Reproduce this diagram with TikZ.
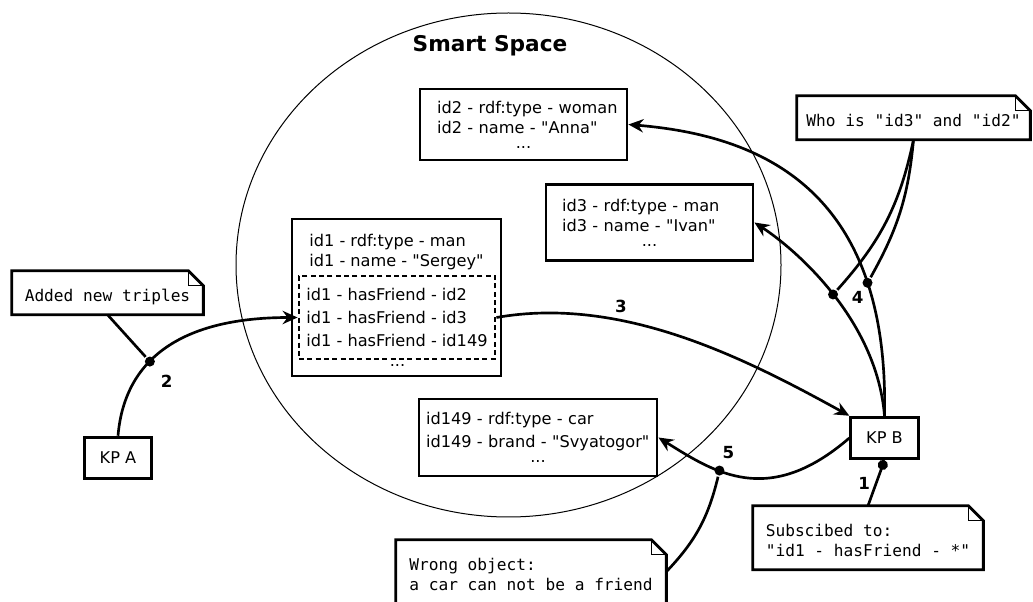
\documentclass[tikz,border=0pt]{standalone}
\usepackage{fontspec}
\newfontfamily\dejavu{DejaVu Sans}
\setmonofont{DejaVu Sans Mono}
\usepackage{tikz}
\usetikzlibrary{arrows.meta,positioning,calc,shapes.geometric}
\tikzset{
	box/.style={draw, line width=1.7pt, align=left, inner sep=0pt, font=\fontsize{9.7}{12}\dejavu},
	txt/.style={align=left, inner sep=0pt, font=\fontsize{9.7}{12}\dejavu},
	arrow/.style={-{Stealth[length=9pt,width=8pt,inset=3pt]}, line width=1.6pt},
	link/.style={line width=1.6pt},
	notebox/.style={align=left, inner sep=0pt, inner ysep=5pt, font=\fontsize{9.7}{12}\ttfamily},
	num/.style={font=\fontsize{10}{12}\dejavu\bfseries, inner sep=1pt},
	dotmark/.style={circle, fill, inner sep=0pt, minimum size=6pt}
}
% two triples and the dots under them
\newcommand\triples[3][0pt]{\mbox{#2}\\[#1]\mbox{#3}\\[-3pt]\makebox[\linewidth]{...}}
% note text with room for the folded corner
\newcommand\notetext[1]{\rule{0pt}{13.5pt}#1\rule[-2.5pt]{0pt}{2.5pt}}
% note outline with folded corner
\newcommand\dogear[1]{%
	\draw[line width=1.7pt] (#1.north west) -- ([xshift=-9pt]#1.north east)
	-- ([yshift=-9pt]#1.north east) -- (#1.south east) -- (#1.south west) -- cycle;
	\draw[line width=0.7pt] ([xshift=-9pt]#1.north east) |- ([yshift=-9pt]#1.north east);
}

\begin{document}
\begin{tikzpicture}[x=0.6pt, y=-0.6pt,
		triplebox/.style={box},
		kp/.style={box, align=center, minimum width=40.5pt, minimum height=25pt},
		]
	\useasboundingbox (0,0) rectangle (1033,602);
	
	%% -- Smart space
	\node[draw, ellipse, line width=0.6pt, inner sep=0pt,
	minimum width=327pt, minimum height=302.4pt] (space) at (508.5,265) {};
	\node[font=\fontsize{13}{15}\dejavu\bfseries] (sstitle) at (490,46) {Smart Space};
	
	%% -- Triples
	\node[triplebox, text width=103.8pt, inner xsep=10.2pt, minimum height=42.6pt]
	(anna) at (523.5,124.5)
	{\triples{id2 - rdf:type - woman}{id2 - name - "Anna"}};
	
	\node[triplebox, text width=105pt, inner xsep=9.6pt, minimum height=45.6pt]
	(ivan) at (649.5,222.5)
	{\triples{id3 - rdf:type - man}{id3 - name - "Ivan"}};
	
	\node[triplebox, text width=134.4pt, inner xsep=4.2pt, minimum height=46.2pt]
	(car) at (538,437.5)
	{\triples[1.6pt]{id149 - rdf:type - car}{id149 - brand - "Svyatogor"}};
	
	\node[box, minimum width=125.4pt, minimum height=94.2pt] (sergey) at (396.5,297.5) {};
	\node[txt, anchor=west] (sergeyhead) at (309,252)
	{id1 - rdf:type - man\\id1 - name - "Sergey"};
	\node[box, dash pattern=on 3pt off 2pt, font=\fontsize{9.7}{13.8}\dejavu,
	minimum width=117.6pt, minimum height=49.8pt] (friends) at (397,317.5)
	{id1 - hasFriend - id2\\id1 - hasFriend - id3\\id1 - hasFriend - id149};
	\node[txt] (sergeydots) at (397.5,365) {...};
	
	%% -- Knowledge processors
	\node[kp] (kpa) at (118,458) {KP A};
	\node[kp] (kpb) at (884.5,438) {KP B};
	
	%% -- Notes
	\node[notebox, minimum width=114.6pt] (added) at (107.5,292.7)
	{\notetext{Added new triples}};
	\dogear{added}
	\node[notebox, minimum width=139.8pt] (who) at (913.5,117.7)
	{\notetext{Who is "id3" and "id2"}};
	\dogear{who}
	\node[notebox, minimum width=138pt] (subs) at (868,537.7)
	{\notetext{Subscibed to:\\"id1 - hasFriend - *"}};
	\dogear{subs}
	\node[notebox, minimum width=162pt] (wrong) at (531,571.7)
	{\notetext{Wrong object:\\a car can not be a friend}};
	\dogear{wrong}
	
	%% -- 1: subscription
	\draw[link, {Circle[length=6pt]}-] (kpb.south) -- (subs.north)
	node[num, midway, left=2pt] {1};
	
	%% -- 2: KP A inserts triples
	\draw[arrow] (kpa.north) .. controls +(7,-82) and +(-109,0) .. (friends.west)
	node[dotmark, pos=0.38] (d2) {}
	node[num, pos=0.38, xshift=10pt, yshift=-12pt] {2};
	\draw[link] (added.south) -- (d2);
	
	%% -- 3: notification
	\draw[arrow] (friends.east) .. controls +(125,-22) and +(-105,-58) .. (kpb.north west)
	node[num, pos=0.36, xshift=-5.4pt, yshift=9.6pt] {3};
	
	%% -- 4: queries
	\draw[arrow] (kpb.north) .. controls +(5,-227) and +(132,11) .. (anna.east)
	node[dotmark, pos=0.235] (d4a) {};
	\draw[arrow] (kpb.north) .. controls +(-8,-97) and +(40,26) .. (ivan.east)
	node[dotmark, pos=0.49] (d4b) {}
	node[num, pos=0.45, xshift=11pt, yshift=3pt] {4};
	\draw[link] (who.south) to[bend left=12] (d4a);
	\draw[link] (who.south) to[bend left=15] (d4b);
	
	%% -- 5: wrong object
	\draw[arrow] (kpb.west) .. controls +(-81,70) and +(56,35) .. (car.east)
	node[dotmark, pos=0.64] (d5) {}
	node[num, pos=0.64, xshift=5.4pt, yshift=10.8pt] {5};
	\draw[link] (wrong.east) to[bend right=15] (d5);
	
\end{tikzpicture}
\end{document}
